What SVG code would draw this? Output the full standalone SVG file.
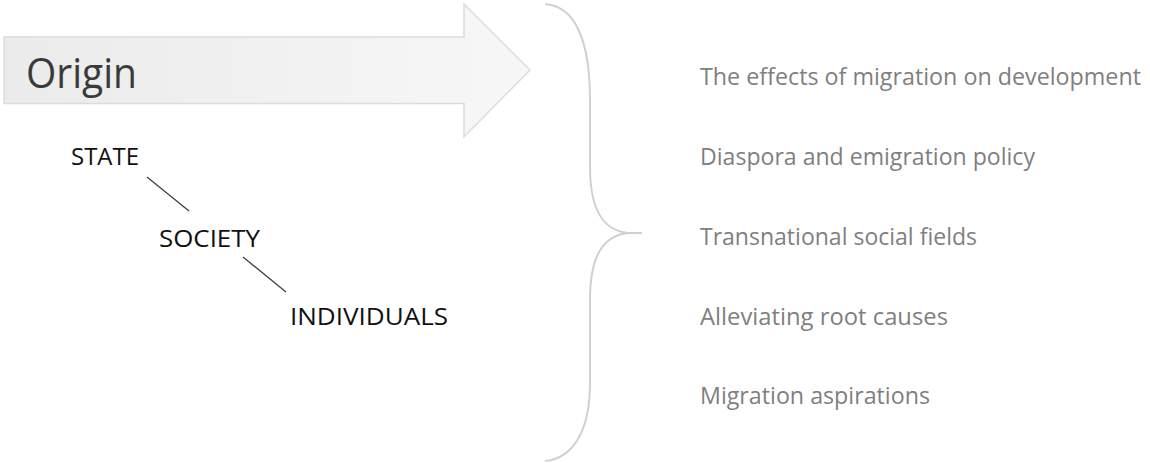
<svg xmlns="http://www.w3.org/2000/svg" width="1150" height="463" viewBox="0 0 1150 463">
  <defs>
    <linearGradient id="arrowFill" x1="0" y1="0" x2="1" y2="0">
      <stop offset="0" stop-color="#ebebeb"/>
      <stop offset="1" stop-color="#f7f7f7"/>
    </linearGradient>
    <style>
      .lbl { font-family: "Open Sans", "Noto Sans", "Liberation Sans", sans-serif; }
      .level { font-size: 24px; fill: #111111; }
      .topic { font-size: 23px; fill: #7f7f7f; }
      .conn { stroke: #404040; stroke-width: 1.3; fill: none; }
      .brace { stroke: #d0d0d0; stroke-width: 2; fill: none; }
    </style>
  </defs>
  <rect width="1150" height="463" fill="#ffffff"/>

  <g id="origin-arrow">
    <polygon points="4,37 464,37 464,4 530,70 464,137 464,103.5 4,103.5" fill="url(#arrowFill)" stroke="#dcdcdc" stroke-width="1.5" stroke-linejoin="miter"/>
    <text class="lbl" x="26" y="88" font-size="42" fill="#3a3a3a" textLength="111" lengthAdjust="spacingAndGlyphs">Origin</text>
  </g>

  <g id="node-state">
    <text class="lbl level" x="71" y="165" textLength="68" lengthAdjust="spacingAndGlyphs">STATE</text>
  </g>
  <g id="node-society">
    <text class="lbl level" x="159" y="247" textLength="101" lengthAdjust="spacingAndGlyphs">SOCIETY</text>
  </g>
  <g id="node-individuals">
    <text class="lbl level" x="290" y="325" textLength="158" lengthAdjust="spacingAndGlyphs">INDIVIDUALS</text>
  </g>

  <g id="connectors">
    <line class="conn" x1="147" y1="177" x2="189" y2="211"/>
    <line class="conn" x1="243" y1="257" x2="286" y2="292"/>
  </g>

  <g id="brace">
    <path class="brace" d="M545,4 C575,6 590,40 590,100 L590,167 C590,205 600,230 628,233 L642,233 M628,233 C600,236 590,261 590,300 L590,383 C590,428 575,458 545,461"/>
  </g>

  <g id="topic-1">
    <text class="lbl topic" x="700" y="85" textLength="441" lengthAdjust="spacingAndGlyphs">The effects of migration on development</text>
  </g>
  <g id="topic-2">
    <text class="lbl topic" x="700" y="165" textLength="335" lengthAdjust="spacingAndGlyphs">Diaspora and emigration policy</text>
  </g>
  <g id="topic-3">
    <text class="lbl topic" x="700" y="245" textLength="277" lengthAdjust="spacingAndGlyphs">Transnational social fields</text>
  </g>
  <g id="topic-4">
    <text class="lbl topic" x="700" y="325" textLength="248" lengthAdjust="spacingAndGlyphs">Alleviating root causes</text>
  </g>
  <g id="topic-5">
    <text class="lbl topic" x="700" y="404" textLength="230" lengthAdjust="spacingAndGlyphs">Migration aspirations</text>
  </g>
</svg>
